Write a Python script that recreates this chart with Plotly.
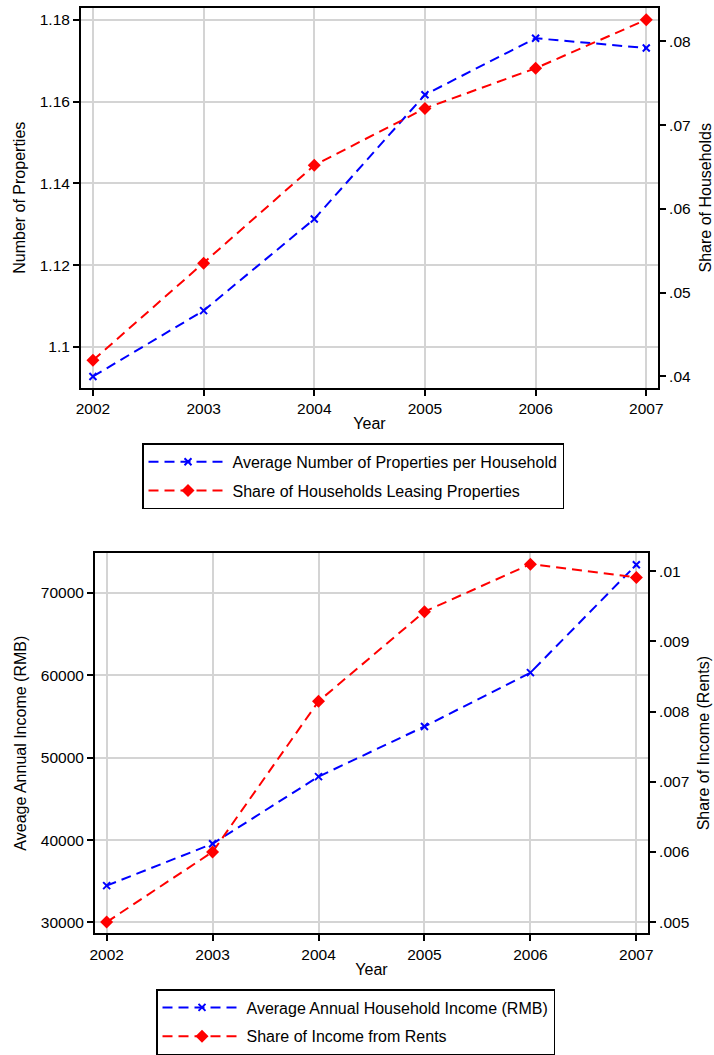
import plotly.graph_objects as go

years = [2002, 2003, 2004, 2005, 2006, 2007]

# Top panel
avg_properties = [1.0928, 1.1089, 1.1313, 1.1617, 1.1755, 1.1731]
share_leasing = [0.0419, 0.0535, 0.0652, 0.0720, 0.0768, 0.0826]
top_left_ticks = [1.10, 1.12, 1.14, 1.16, 1.18]
top_left_text = ["1.1", "1.12", "1.14", "1.16", "1.18"]
top_right_ticks = [0.04, 0.05, 0.06, 0.07, 0.08]
top_right_text = [".04", ".05", ".06", ".07", ".08"]

# Bottom panel
avg_income = [34470, 39550, 47700, 53780, 60310, 73410]
share_rents = [0.00500, 0.00600, 0.008145, 0.009423, 0.01010, 0.00991]
bot_left_ticks = [30000, 40000, 50000, 60000, 70000]
bot_left_text = ["30000", "40000", "50000", "60000", "70000"]
bot_right_ticks = [0.005, 0.006, 0.007, 0.008, 0.009, 0.010]
bot_right_text = [".005", ".006", ".007", ".008", ".009", ".01"]

BLUE = "#0000ff"
RED = "#ff0000"
FONT = "Liberation Sans, Arial, sans-serif"
GRID = "#d4d4d4"
W, H = 714, 1055

fig = go.Figure()

def line_kw(color):
    return dict(color=color, width=2, dash="10px,6px")

fig.add_trace(go.Scatter(x=years, y=avg_properties, mode="lines+markers",
                         name="Average Number of Properties per Household",
                         line=line_kw(BLUE), legendgroup="a",
                         marker=dict(symbol="x-thin", size=7, color=BLUE,
                                     line=dict(color=BLUE, width=2)),
                         xaxis="x", yaxis="y", legend="legend"))
fig.add_trace(go.Scatter(x=years, y=share_leasing, mode="lines+markers",
                         name="Share of Households Leasing Properties",
                         line=line_kw(RED), legendgroup="b",
                         marker=dict(symbol="diamond", size=10, color=RED),
                         xaxis="x", yaxis="y2", legend="legend"))
fig.add_trace(go.Scatter(x=years, y=avg_income, mode="lines+markers",
                         name="Average Annual Household Income (RMB)",
                         line=line_kw(BLUE), legendgroup="c",
                         marker=dict(symbol="x-thin", size=7, color=BLUE,
                                     line=dict(color=BLUE, width=2)),
                         xaxis="x2", yaxis="y3", legend="legend2"))
fig.add_trace(go.Scatter(x=years, y=share_rents, mode="lines+markers",
                         name="Share of Income from Rents",
                         line=line_kw(RED), legendgroup="d",
                         marker=dict(symbol="diamond", size=10, color=RED),
                         xaxis="x2", yaxis="y4", legend="legend2"))

def px_x(p):
    return p / W

def px_y(p):
    return 1 - p / H

tick_font = dict(family=FONT, size=15.5, color="black")
title_font = dict(family=FONT, size=16, color="black")

common_axis = dict(showline=True, linecolor="black", linewidth=2,
                   ticks="outside", ticklen=6, tickwidth=1.5, tickcolor="black",
                   tickfont=tick_font, zeroline=False, automargin=False)

top_xd = [px_x(81), px_x(658)]
top_yd = [px_y(389), px_y(8)]
bot_xd = [px_x(95), px_x(648)]
bot_yd = [px_y(937), px_y(555)]

legend_common = dict(xanchor="left", yanchor="top",
                     bordercolor="black", borderwidth=1.5, bgcolor="white",
                     font=dict(family=FONT, size=16, color="black"),
                     itemwidth=79, tracegroupgap=5)

fig.update_layout(
    width=W, height=H,
    margin=dict(l=0, r=0, t=0, b=0),
    paper_bgcolor="white", plot_bgcolor="white",
    font=dict(family=FONT, color="black"),
    xaxis=dict(domain=top_xd, anchor="y", range=[2001.892, 2007.106],
               tickvals=years, ticktext=[str(y) for y in years],
               showgrid=True, gridcolor=GRID, gridwidth=2, mirror=True,
               title=dict(text="Year", font=title_font, standoff=2),
               **common_axis),
    yaxis=dict(domain=top_yd, anchor="x", range=[1.0901, 1.1829],
               tickvals=top_left_ticks, ticktext=top_left_text,
               showgrid=True, gridcolor=GRID, gridwidth=2,
               title=dict(text="Number of Properties", font=title_font, standoff=10),
               **common_axis),
    yaxis2=dict(overlaying="y", anchor="x", side="right", range=[0.03865, 0.0840],
                tickvals=top_right_ticks, ticktext=top_right_text,
                showgrid=False,
                title=dict(text="Share of Households", font=title_font, standoff=10),
                **common_axis),
    xaxis2=dict(domain=bot_xd, anchor="y3", range=[2001.89, 2007.11],
                tickvals=years, ticktext=[str(y) for y in years],
                showgrid=True, gridcolor=GRID, gridwidth=2, mirror=True,
                title=dict(text="Year", font=title_font, standoff=2),
                **common_axis),
    yaxis3=dict(domain=bot_yd, anchor="x2", range=[28670, 74840],
                tickvals=bot_left_ticks, ticktext=bot_left_text,
                showgrid=True, gridcolor=GRID, gridwidth=2,
                title=dict(text="Aveage Annual Income (RMB)", font=title_font, standoff=10),
                **common_axis),
    yaxis4=dict(overlaying="y3", anchor="x2", side="right", range=[0.004838, 0.01026],
                tickvals=bot_right_ticks, ticktext=bot_right_text,
                showgrid=False,
                title=dict(text="Share of Income (Rents)", font=title_font, standoff=10),
                **common_axis),
    legend=dict(x=px_x(142), y=px_y(445), entrywidth=445, **legend_common),
    legend2=dict(x=px_x(156), y=px_y(993), entrywidth=417, **legend_common),
    showlegend=True,
)

fig.write_html("out.html", config={"displayModeBar": False},
               post_script="document.body.style.margin='0';document.body.style.padding='0';")
